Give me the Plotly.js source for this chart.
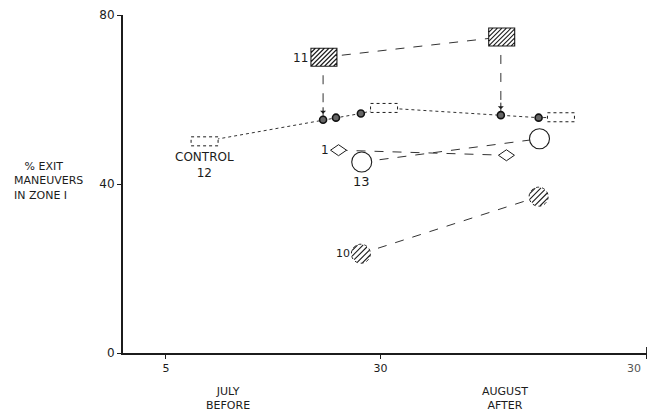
<!DOCTYPE html>
<html>
<head>
<meta charset="utf-8">
<script src="https://cdn.plot.ly/plotly-3.0.1.min.js"></script>
<style>html,body{margin:0;padding:0;background:#fff;}#chart{width:652px;height:412px;}</style>
</head>
<body>
<div id="chart"></div>
<script>
// ---- data (x = day counted from 1 July, y = % exit maneuvers in zone I) ----
const dayTickVals = [5, 30, 61];
const dayTickText = ['5', '30', '30'];
const yTickVals = [0, 40, 80];
const monthLabels = ['JULY<br>BEFORE', 'AUGUST<br>AFTER'];
const monthLabelDays = [12.2, 44.5];

const controlX = [9.5, 23.3, 24.8, 27.7, 30.4, 44.0, 48.4, 51.0];
const controlY = [50.1, 55.2, 55.7, 56.7, 58.0, 56.3, 55.7, 55.8];
const controlBoxIdx = [0, 4, 7];
const controlDotIdx = [1, 2, 3, 5, 6];

const site11X = [23.4, 44.1];
const site11Y = [70.0, 74.8];
const site1X = [25.1, 44.65];
const site1Y = [48.0, 46.8];
const site13X = [27.8, 48.5];
const site13Y = [45.2, 50.7];
const site10X = [27.7, 48.4];
const site10Y = [23.5, 37.0];
const arrowTargetIdx = [1, 5]; // control dots pointed at from site 11

// ---- styles ----
const ink = '#1c1c1c';
const lineInk = '#333';
const font = {family: 'DejaVu Sans, Liberation Sans, sans-serif', size: 12, color: ink};

const traces = [];
traces.push({x: controlX, y: controlY, mode: 'lines', line: {color: lineInk, width: 1, dash: 'dot'}, hoverinfo: 'skip'});
traces.push({x: site11X, y: site11Y, mode: 'lines', line: {color: lineInk, width: 1, dash: 'dash'}});
traces.push({x: site1X, y: site1Y, mode: 'lines', line: {color: lineInk, width: 1, dash: 'dash'}});
traces.push({x: site13X, y: site13Y, mode: 'lines', line: {color: lineInk, width: 1, dash: 'dash'}});
traces.push({x: site10X, y: site10Y, mode: 'lines', line: {color: lineInk, width: 1, dash: 'dash'}});
// vertical arrows from site 11 to control dots
arrowTargetIdx.forEach((ci, k) => {
  traces.push({x: [controlX[ci], controlX[ci]], y: [site11Y[k], controlY[ci]], mode: 'lines',
    line: {color: lineInk, width: 1, dash: 'dash'}});
});
traces.push({x: controlDotIdx.map(i => controlX[i]), y: controlDotIdx.map(i => controlY[i]), mode: 'markers',
  marker: {symbol: 'circle', size: 7, color: '#666', line: {color: '#111', width: 1.6}}});
traces.push({x: site13X, y: site13Y, mode: 'markers',
  marker: {symbol: 'circle', size: 20, color: '#fff', line: {color: ink, width: 1.1}}});

// ---- shapes for non-standard markers ----
const shapes = [];
function anchored(x, y, extra) {
  return Object.assign({xref: 'x', yref: 'y', xsizemode: 'pixel', ysizemode: 'pixel', xanchor: x, yanchor: y,
    layer: 'above', line: {color: ink, width: 1}}, extra);
}
controlBoxIdx.forEach(i => {
  shapes.push(anchored(controlX[i], controlY[i], {type: 'rect', x0: -13.5, x1: 13.5, y0: -4.5, y1: 4.5,
    fillcolor: '#fff', line: {color: ink, width: 1, dash: 'dot'}}));
});
for (let k = 0; k < site1X.length; k++) {
  shapes.push(anchored(site1X[k], site1Y[k], {type: 'path', path: 'M -8 0 L 0 5.5 L 8 0 L 0 -5.5 Z', fillcolor: '#fff'}));
}
function hatchRectPath(w, h, s) {
  const hw = w / 2, hh = h / 2;
  let p = `M ${-hw} ${-hh} L ${hw} ${-hh} L ${hw} ${hh} L ${-hw} ${hh} Z`;
  for (let c = -(hw + hh) + s; c < hw + hh; c += s) {
    const xa = Math.max(-hw, c - hh), xb = Math.min(hw, c + hh);
    if (xb - xa > 0.5) p += ` M ${xa.toFixed(2)} ${(xa - c).toFixed(2)} L ${xb.toFixed(2)} ${(xb - c).toFixed(2)}`;
  }
  return p;
}
function hatchCirclePath(r, s) {
  let p = '';
  const u = [Math.SQRT1_2, Math.SQRT1_2], n = [-Math.SQRT1_2, Math.SQRT1_2];
  for (let d = -r + s / 2; d < r; d += s) {
    const half = Math.sqrt(Math.max(0, r * r - d * d)) - 0.5;
    if (half <= 0.5) continue;
    const cx = d * n[0], cy = d * n[1];
    p += ` M ${(cx - half * u[0]).toFixed(2)} ${(cy - half * u[1]).toFixed(2)} L ${(cx + half * u[0]).toFixed(2)} ${(cy + half * u[1]).toFixed(2)}`;
  }
  return p.trim();
}
for (let k = 0; k < site11X.length; k++) {
  shapes.push(anchored(site11X[k], site11Y[k], {type: 'path', path: hatchRectPath(26, 18, 4.5), fillcolor: '#fff',
    line: {color: ink, width: 1.1}}));
}
for (let k = 0; k < site10X.length; k++) {
  shapes.push(anchored(site10X[k], site10Y[k], {type: 'circle', x0: -9.5, x1: 9.5, y0: -9.5, y1: 9.5, fillcolor: '#fff',
    line: {color: ink, width: 1, dash: 'dot'}}));
  shapes.push(anchored(site10X[k], site10Y[k], {type: 'path', path: hatchCirclePath(9.5, 4), line: {color: ink, width: 1.1}}));
}
// end tick on the right of the time axis (crosses the axis line)
shapes.push({type: 'line', xref: 'x', yref: 'y', ysizemode: 'pixel', yanchor: 0, x0: dayTickVals[2], x1: dayTickVals[2],
  y0: -5, y1: 6, line: {color: ink, width: 1.5}, layer: 'above'});

// ---- annotations ----
const annotations = [];
annotations.push({x: controlX[0], y: controlY[0], xref: 'x', yref: 'y', text: 'CONTROL<br>12', showarrow: false,
  yanchor: 'top', yshift: -7, font: font});
annotations.push({x: site11X[0], y: site11Y[0], xref: 'x', yref: 'y', text: '11', showarrow: false,
  xanchor: 'right', xshift: -14, yshift: -1, font: font});
annotations.push({x: site1X[0], y: site1Y[0], xref: 'x', yref: 'y', text: '1', showarrow: false,
  xanchor: 'right', xshift: -8, font: font});
annotations.push({x: site13X[0], y: site13Y[0], xref: 'x', yref: 'y', text: '13', showarrow: false,
  yanchor: 'top', yshift: -10, font: Object.assign({}, font, {size: 13})});
annotations.push({x: site10X[0], y: site10Y[0], xref: 'x', yref: 'y', text: '10', showarrow: false,
  xanchor: 'right', xshift: -9, font: Object.assign({}, font, {size: 11})});
arrowTargetIdx.forEach(ci => {
  annotations.push({x: controlX[ci], y: controlY[ci], xref: 'x', yref: 'y', text: '', showarrow: true,
    ax: 0, ay: -14, arrowhead: 1, arrowsize: 1, arrowwidth: 1, arrowcolor: ink, standoff: 6});
});
monthLabels.forEach((t, i) => {
  annotations.push({x: monthLabelDays[i], y: -0.135, xref: 'x', yref: 'paper', text: t, showarrow: false,
    yanchor: 'middle', font: Object.assign({}, font, {size: 11})});
});
// last time-axis label sits just left of the end tick
annotations.push({x: dayTickVals[2], y: 0, xref: 'x', yref: 'y', text: dayTickText[2], showarrow: false,
  xanchor: 'center', yanchor: 'top', xshift: -13, yshift: -7, font: Object.assign({}, font, {size: 11, color: '#555'})});
annotations.push({x: -0.212, y: 0.51, xref: 'paper', yref: 'paper', xanchor: 'left', yanchor: 'middle', align: 'left',
  text: '\u00a0\u00a0\u00a0% EXIT<br>MANEUVERS<br>IN ZONE I', showarrow: false, font: Object.assign({}, font, {size: 11})});

const layout = {
  width: 652, height: 412,
  margin: {l: 123, r: 5, t: 15, b: 59},
  paper_bgcolor: '#fff', plot_bgcolor: '#fff',
  showlegend: false,
  font: font,
  xaxis: {range: [0, 61.02], showline: true, linecolor: ink, linewidth: 1.5, showgrid: false, zeroline: false,
    ticks: 'outside', ticklen: 4, tickcolor: ink, tickvals: dayTickVals,
    ticktext: dayTickText.map((t, i) => i === dayTickText.length - 1 ? '' : t),
    tickfont: Object.assign({}, font, {size: 11})},
  yaxis: {range: [0, 80], showline: true, linecolor: ink, linewidth: 2, showgrid: false, zeroline: false,
    ticks: 'outside', ticklen: 4, tickcolor: ink, tickvals: yTickVals, tickfont: Object.assign({}, font, {size: 12})},
  shapes: shapes,
  annotations: annotations
};

Plotly.newPlot('chart', traces, layout, {staticPlot: true, displayModeBar: false});
</script>
</body>
</html>
